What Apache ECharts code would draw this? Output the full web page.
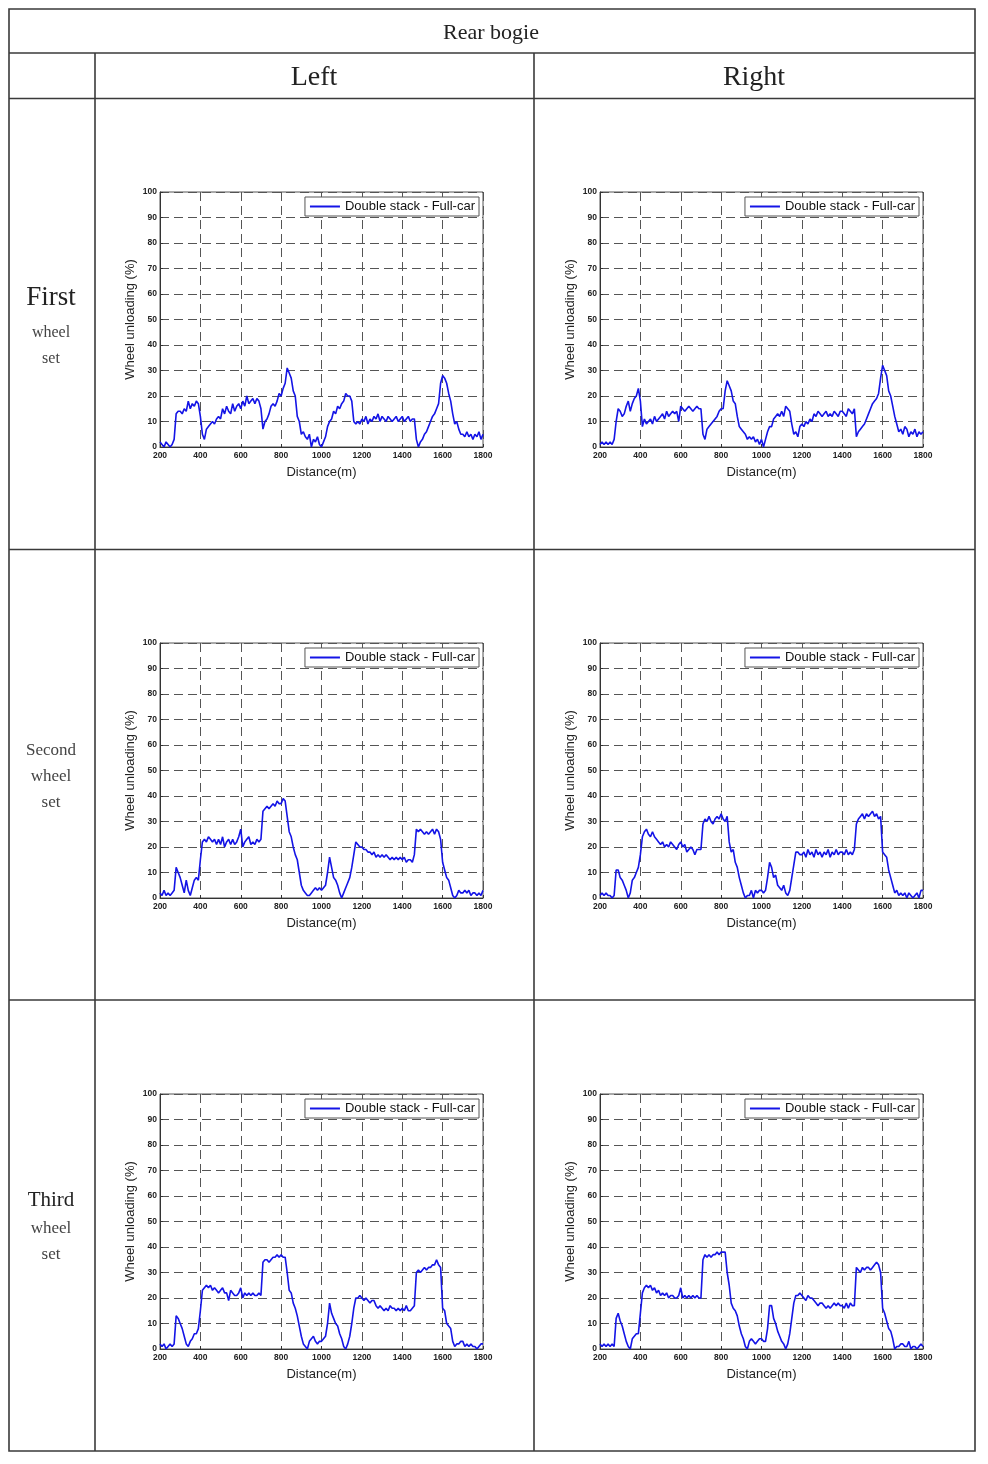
<!DOCTYPE html>
<html>
<head>
<meta charset="utf-8">
<script src="https://cdn.jsdelivr.net/npm/echarts@6/dist/echarts.min.js"></script>
<style>
html,body{margin:0;padding:0;background:#fff;}
#c{width:988px;height:1464px;}
</style>
</head>
<body>
<div id="c"></div>
<script>
// ---------- DATA ----------
const distances = [
  200,210,220,230,240,250,260,270,280,290,
  300,310,320,330,340,350,360,370,380,390,
  400,410,420,430,440,450,460,470,480,490,
  500,510,520,530,540,550,560,570,580,590,
  600,610,620,630,640,650,660,670,680,690,
  700,710,720,730,740,750,760,770,780,790,
  800,810,820,830,840,850,860,870,880,890,
  900,910,920,930,940,950,960,970,980,990,
  1000,1010,1020,1030,1040,1050,1060,1070,1080,1090,
  1100,1110,1120,1130,1140,1150,1160,1170,1180,1190,
  1200,1210,1220,1230,1240,1250,1260,1270,1280,1290,
  1300,1310,1320,1330,1340,1350,1360,1370,1380,1390,
  1400,1410,1420,1430,1440,1450,1460,1470,1480,1490,
  1500,1510,1520,1530,1540,1550,1560,1570,1580,1590,
  1600,1610,1620,1630,1640,1650,1660,1670,1680,1690,
  1700,1710,1720,1730,1740,1750,1760,1770,1780,1790,
  1800
];

const firstLeft = [
  2,1,0,2,1,0,1,3,13,14,
  14,13,15,14,18,15,17,16,18,17,
  12,5,3,7,8,9,10,9,11,12,
  11,15,13,16,14,13,17,14,16,17,
  15,18,16,20,17,18,19,17,19,18,
  15,7,10,11,13,16,17,16,18,21,
  20,23,25,31,29,27,22,20,12,10,
  5,6,4,3,5,0,3,2,4,1,
  0,2,4,8,10,11,14,13,16,15,
  17,18,21,20,20,18,10,9,10,9,
  11,10,12,9,11,10,12,11,13,10,
  12,11,10,12,11,10,11,12,10,11,
  12,10,11,12,10,11,11,3,0,2,
  3,5,6,8,10,12,13,15,17,25,
  28,27,25,21,18,13,9,10,7,5,
  5,4,6,4,5,3,5,4,6,3,
  5
];
const firstRight = [
  1,2,1,2,1,2,1,3,10,15,
  14,12,13,16,18,14,17,19,20,23,
  18,8,11,9,10,11,9,12,10,11,
  12,13,11,14,12,13,14,13,14,10,
  16,15,14,15,16,15,14,15,16,15,
  15,5,3,7,8,9,10,11,12,14,
  15,15,22,26,24,22,18,17,12,8,
  7,6,5,3,4,3,4,2,3,1,
  3,0,3,6,8,8,11,12,13,12,
  14,12,16,15,14,9,5,6,4,8,
  9,8,10,9,11,10,13,12,14,13,
  12,13,14,12,13,12,14,13,12,14,
  14,13,12,15,14,13,15,4,6,7,
  8,9,11,13,15,17,18,19,21,27,
  32,30,28,22,20,16,12,9,6,7,
  5,8,7,4,6,5,7,4,6,5,
  6
];
const secondLeft = [
  2,1,3,1,2,1,2,3,12,10,
  8,5,2,7,3,1,4,7,8,7,
  15,22,23,22,24,23,22,23,21,23,
  21,24,20,22,23,21,23,21,22,24,
  27,20,22,23,24,21,22,21,23,22,
  23,34,35,36,35,36,37,36,38,37,
  37,39,38,32,26,24,20,17,15,10,
  5,3,2,1,1,2,3,4,3,4,
  3,4,5,10,16,12,8,7,5,2,
  0,2,4,6,8,12,17,22,21,20,
  20,19,19,18,18,17,18,16,17,16,
  17,16,17,16,15,16,15,16,15,16,
  15,16,14,15,15,14,17,27,26,27,
  26,25,26,25,26,27,25,27,26,23,
  14,11,8,7,4,1,0,1,3,2,
  2,3,2,3,1,2,2,1,2,1,
  3
];
const secondRight = [
  1,2,1,2,1,1,0,1,11,11,
  8,7,5,3,0,2,7,8,10,12,
  17,24,26,27,25,24,26,24,23,22,
  21,22,20,21,20,22,21,20,19,21,
  22,20,21,18,19,20,19,17,19,19,
  19,29,31,30,32,30,29,31,32,31,
  33,31,30,32,22,18,19,14,12,8,
  5,2,0,1,1,3,0,3,2,3,
  3,2,3,8,14,12,8,9,5,4,
  3,5,2,1,3,8,13,18,18,17,
  17,18,16,19,17,18,16,19,17,18,
  16,18,17,19,16,18,17,19,17,18,
  18,17,19,17,18,17,19,29,31,32,
  33,31,33,32,33,34,32,33,31,32,
  18,17,16,11,8,5,2,3,1,2,
  1,2,0,2,1,0,1,2,0,3,
  3
];
const thirdLeft = [
  2,1,2,0,1,2,1,2,13,12,
  10,8,5,2,1,3,4,6,6,8,
  15,23,24,25,24,25,23,24,23,22,
  23,24,22,22,19,23,22,21,21,22,
  24,20,22,21,22,21,22,21,21,22,
  21,34,35,35,34,35,36,36,37,36,
  37,36,36,30,23,22,18,16,13,9,
  5,2,1,0,3,4,5,3,2,3,
  3,4,5,10,18,14,12,10,9,6,
  4,1,0,2,5,10,16,20,20,21,
  20,19,20,19,18,19,19,17,16,17,
  16,15,16,15,17,16,16,15,16,15,
  16,15,17,15,15,16,17,30,31,30,
  31,32,31,32,32,33,33,35,33,32,
  16,15,10,9,8,3,1,2,2,3,
  3,1,2,1,2,1,1,0,1,2,
  2
];
const thirdRight = [
  2,1,2,1,2,1,2,1,12,14,
  11,9,6,3,1,0,4,5,6,6,
  14,22,24,25,24,25,23,24,22,23,
  21,22,21,22,20,21,21,20,20,21,
  24,20,21,20,21,20,21,20,21,20,
  20,35,37,36,37,36,37,37,38,37,
  38,38,38,30,25,18,16,15,13,9,
  6,4,1,0,3,4,3,2,3,4,
  4,3,3,8,17,17,12,10,7,5,
  3,2,0,2,6,12,18,21,21,22,
  21,20,19,21,20,20,19,18,17,18,
  18,17,16,17,16,17,18,17,18,17,
  17,16,18,16,18,17,17,32,31,30,
  32,31,32,32,31,32,33,34,33,30,
  16,14,11,8,7,4,0,1,1,2,
  2,1,1,3,0,1,1,0,1,2,
  1
];

const seriesName = 'Double stack - Full-car';
const xTicks = [200, 400, 600, 800, 1000, 1200, 1400, 1600, 1800];
const yTicks = [0, 10, 20, 30, 40, 50, 60, 70, 80, 90, 100];
const xAxisName = 'Distance(m)';
const yAxisName = 'Wheel unloading (%)';
const headerTitle = 'Rear bogie';
const columnTitles = ['Left', 'Right'];
const rowTitles = [['First', 'wheel', 'set'], ['Second', 'wheel', 'set'], ['Third', 'wheel', 'set']];
const panelValues = [firstLeft, firstRight, secondLeft, secondRight, thirdLeft, thirdRight];

// ---------- LAYOUT ----------
const gridLefts = [160, 600];
const gridTops = [192, 643, 1094];
const gridW = 323, gridH = 255;

const grids = [], xAxes = [], yAxes = [], series = [], legends = [];
panelValues.forEach((vals, k) => {
  const r = Math.floor(k / 2), c = k % 2;
  grids.push({
    left: gridLefts[c], top: gridTops[r], width: gridW, height: gridH,
    show: true, borderColor: '#555', borderWidth: 1, backgroundColor: '#fff', containLabel: false
  });
  xAxes.push({
    type: 'value', gridIndex: k,
    min: xTicks[0], max: xTicks[xTicks.length - 1], interval: xTicks[1] - xTicks[0],
    name: xAxisName, nameLocation: 'middle', nameGap: 19,
    nameTextStyle: { fontFamily: 'Arial, Liberation Sans', fontSize: 13, color: '#222' },
    axisLine: { show: true, onZero: false, lineStyle: { color: '#333', width: 1 } },
    axisTick: { show: true, inside: true, length: 3, lineStyle: { color: '#333' } },
    axisLabel: { fontFamily: 'Arial, Liberation Sans', fontSize: 8.5, fontWeight: 'bold', color: '#222', margin: 4,
      formatter: v => String(v) },
    splitLine: { show: true, lineStyle: { color: '#555', type: [9, 5], width: 1 } }
  });
  yAxes.push({
    type: 'value', gridIndex: k,
    min: yTicks[0], max: yTicks[yTicks.length - 1], interval: yTicks[1] - yTicks[0],
    name: yAxisName, nameLocation: 'middle', nameGap: 23, nameRotate: 90,
    nameTextStyle: { fontFamily: 'Arial, Liberation Sans', fontSize: 13, color: '#222' },
    axisLine: { show: true, onZero: false, lineStyle: { color: '#333', width: 1 } },
    axisTick: { show: true, inside: true, length: 3, lineStyle: { color: '#333' } },
    axisLabel: { fontFamily: 'Arial, Liberation Sans', fontSize: 8.5, fontWeight: 'bold', color: '#222', margin: 3,
      formatter: v => String(v) },
    splitLine: { show: true, lineStyle: { color: '#555', type: [9, 5], width: 1 } }
  });
  series.push({
    type: 'line', name: seriesName, xAxisIndex: k, yAxisIndex: k,
    data: distances.map((d, i) => [d, vals[i]]),
    symbol: 'none', showSymbol: false, smooth: false,
    lineStyle: { color: '#1414e6', width: 1.6 },
    itemStyle: { color: '#1414e6' },
    animation: false, z: 3
  });
  legends.push({
    data: [{ name: seriesName, icon: 'rect' }],
    right: 988 - (gridLefts[c] + gridW) + 4, top: gridTops[r] + 5,
    orient: 'horizontal',
    backgroundColor: '#fff', borderColor: '#555', borderWidth: 1,
    padding: [3, 4, 3, 5], itemWidth: 30, itemHeight: 2, itemGap: 4,
    itemStyle: { color: '#1414e6', borderWidth: 0 },
    lineStyle: { width: 0 },
    textStyle: { fontFamily: 'Arial, Liberation Sans', fontSize: 13, color: '#111' },
    selectedMode: false
  });
});

// ---------- TABLE GRAPHICS ----------
const stroke = '#3a3a3a';
const L = 9, R = 975, T = 9, B = 1451;
const colX = [95, 534];
const rowY = [53, 98.5, 549.5, 1000];
const g = [];
g.push({ type: 'rect', shape: { x: L, y: T, width: R - L, height: B - T }, style: { fill: 'none', stroke, lineWidth: 1.6 }, silent: true });
rowY.forEach(y => g.push({ type: 'line', shape: { x1: L, y1: y, x2: R, y2: y }, style: { stroke, lineWidth: 1.6 }, silent: true }));
colX.forEach(x => g.push({ type: 'line', shape: { x1: x, y1: 53, x2: x, y2: B }, style: { stroke, lineWidth: 1.6 }, silent: true }));

function txt(text, x, y, size, color) {
  g.push({
    type: 'text', silent: true,
    style: { text, x, y, align: 'center', verticalAlign: 'middle', textAlign: 'center', textVerticalAlign: 'middle',
      fontFamily: 'Liberation Serif, Times New Roman, serif', fontSize: size, fill: color || '#222' }
  });
}
txt(headerTitle, 491, 33, 22, '#222');
txt(columnTitles[0], 314, 78, 28, '#222');
txt(columnTitles[1], 754, 78, 28, '#222');
const rowLabelY = [[298, 333, 359], [751, 777, 803], [1200, 1229, 1255]];
const rowLabelSize = [[27, 16, 16], [17, 17, 17], [21, 17, 17]];
rowTitles.forEach((rt, i) => {
  rt.forEach((t, j) => txt(t, 51, rowLabelY[i][j], rowLabelSize[i][j], j === 0 && i !== 1 ? '#222' : '#444'));
});

const chart = echarts.init(document.getElementById('c'), null, { renderer: 'canvas' });
chart.setOption({
  backgroundColor: '#fff',
  animation: false,
  grid: grids, xAxis: xAxes, yAxis: yAxes, series, legend: legends,
  graphic: g
});
</script>
</body>
</html>
